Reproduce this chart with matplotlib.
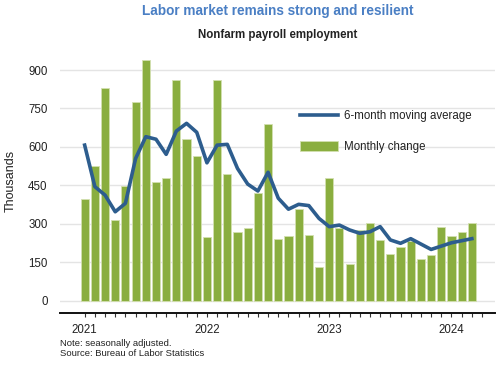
import matplotlib
matplotlib.use("Agg")
import matplotlib.pyplot as plt
from matplotlib.lines import Line2D
from matplotlib.patches import Patch
import numpy as np

plt.rcParams['font.family'] = ['Liberation Sans', 'DejaVu Sans']

months = [f"{y}-{m:02d}" for y in (2021, 2022, 2023, 2024) for m in range(1, 13)][:39]
monthly_change = [396, 526, 830, 316, 449, 776, 939, 463, 479, 860, 630, 565,
                  248, 861, 493, 269, 284, 419, 689, 241, 254, 359, 256, 133,
                  480, 285, 144, 276, 302, 238, 182, 208, 233, 163, 180, 288,
                  254, 268, 302]
moving_avg = [607, 445, 412, 347, 380, 555, 640, 630, 571, 662, 692, 657,
              538, 607, 610, 516, 455, 428, 501, 400, 357, 376, 371, 321,
              289, 295, 276, 263, 269, 289, 237, 224, 242, 221, 200, 213,
              226, 234, 242]
year_labels = ["2021", "2022", "2023", "2024"]
yticks = [0, 150, 300, 450, 600, 750, 900]

BAR = "#8aae3f"
BAR_EDGE = "#d3e0b0"
LINE = "#2d5d8e"
TITLE = "#4a7fc4"

fig = plt.figure(figsize=(5.0, 3.65), dpi=100)
ax = fig.add_axes([0.12, 1 - 313 / 365, 0.87, 268.6 / 365])

x = np.arange(len(months))
ax.bar(x, monthly_change, width=0.8, color=BAR, edgecolor=BAR_EDGE, linewidth=0.6,
       zorder=2, label="Monthly change")
ax.plot(x, moving_avg, color=LINE, linewidth=2.6, zorder=3,
        solid_joinstyle='round', label="6-month moving average")

ax.set_xlim(-2.42, 40.27)
ax.set_ylim(-48, 1000)
ax.set_yticks(yticks)
ax.set_yticklabels([str(v) for v in yticks])
ax.yaxis.grid(True, color="#e4e4e4", linewidth=1.0)
ax.set_axisbelow(True)
ax.tick_params(axis='y', length=0, pad=9, labelsize=8.3, labelcolor="#222222")

ax.set_xticks([0, 12, 24, 36])
ax.set_xticklabels(year_labels)
ax.set_xticks(np.arange(40), minor=True)
ax.tick_params(axis='x', which='both', length=3, width=0.8, color="#333333",
               direction='out')
ax.tick_params(axis='x', which='major', pad=5, labelsize=8.3, labelcolor="#222222")

for s in ("left", "top", "right"):
    ax.spines[s].set_visible(False)
ax.spines["bottom"].set_color("#111111")
ax.spines["bottom"].set_linewidth(1.4)

handles = [Line2D([], [], color=LINE, linewidth=2.6),
           Patch(facecolor=BAR, edgecolor=BAR_EDGE, linewidth=0.6)]
leg = ax.legend(handles, ["6-month moving average", "Monthly change"],
                loc="upper left", bbox_to_anchor=(300 / 500, 1 - 110 / 365),
                bbox_transform=fig.transFigure, frameon=False, fontsize=8.3,
                handlelength=3.3, handletextpad=0.55, labelspacing=1.65,
                borderpad=0, borderaxespad=0, handleheight=0.9)
for t in leg.get_texts():
    t.set_color("#222222")

fig.text(278 / 500, 1 - 11 / 365, "Labor market remains strong and resilient",
         ha="center", va="center", fontsize=9.8, fontweight="bold", color=TITLE)
fig.text(278 / 500, 1 - 35 / 365, "Nonfarm payroll employment",
         ha="center", va="center", fontsize=8.3, fontweight="bold", color="#222222")
fig.text(11 / 500, 1 - 181 / 365, "Thousands", rotation=90, ha="center",
         va="center", fontsize=9, color="#222222")
fig.text(60 / 500, 1 - 344 / 365, "Note: seasonally adjusted.", ha="left",
         va="center", fontsize=6.8, color="#222222")
fig.text(60 / 500, 1 - 354 / 365, "Source: Bureau of Labor Statistics", ha="left",
         va="center", fontsize=6.8, color="#222222")

fig.savefig("out.png", dpi=100)
